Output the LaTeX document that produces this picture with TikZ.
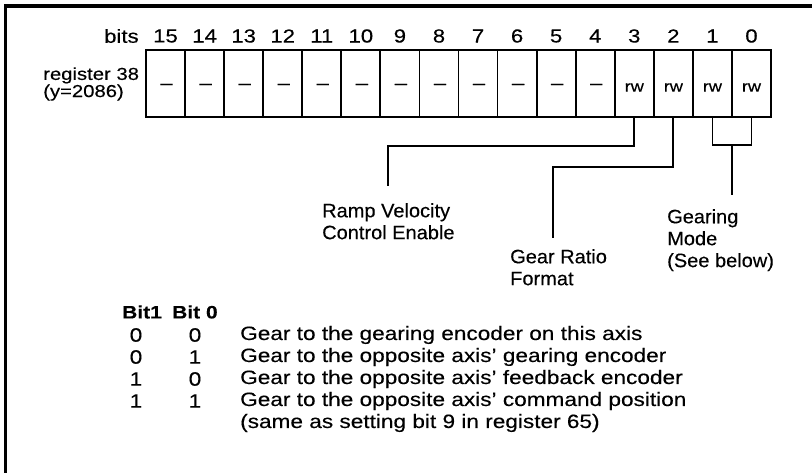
\documentclass[tikz,border=0pt]{standalone}
\usepackage{fontspec}
\setmainfont{Liberation Sans}[FakeBold=0.3, FakeStretch=1.17]
\newfontfamily\lblfont{Liberation Sans}[FakeBold=0.3, FakeStretch=1.03]
\begin{document}
\begin{tikzpicture}[x=1bp,y=-1bp,
  every node/.style={font=\fontsize{19}{22}\selectfont, inner sep=0pt},
  cell/.style={draw, line width=1.8bp, minimum width=39.06bp, minimum height=67bp},
  celltxt/.style={font=\fontsize{19}{22}\selectfont},
  rwtxt/.style={font=\fontsize{15.5}{18}\selectfont},
  conn/.style={line width=1.8bp},
  lbl/.style={align=left, anchor=north west, font=\lblfont\fontsize{19.5}{22}\selectfont},
  tbl/.style={font=\fontsize{19.4}{22}\selectfont},
  hdr/.style={font=\fontsize{18}{20}\selectfont\bfseries},
  frame/.style={line width=3.5bp}]
\useasboundingbox (0,0) rectangle (812,473);
% frame
\draw[frame] (5.5,473) -- (5.5,6) -- (812,6);
% labels left
\node[anchor=west] (bitslbl) at (104,36) {bits};
\node[align=left, anchor=west, font=\fontsize{17.4}{13.5}\selectfont] (reglbl) at (43,84) {register 38\\(y=2086)};
% cells
\foreach \b in {15,...,0} {
  \pgfmathsetmacro{\cx}{146+(15-\b+0.5)*39.0625}
  \node[cell] (c\b) at (\cx,83.5) {};
  \node (n\b) at (\cx,36) {\b};
}
\foreach \b in {15,...,4} {
  \node[celltxt] (t\b) at ([xshift=1bp,yshift=-3bp]c\b.center) {--};
}
\foreach \b in {3,...,0} {
  \node[rwtxt] (t\b) at ([yshift=-4bp]c\b.center) {rw};
}
% connectors
\coordinate (j3) at (388,146);
\coordinate (e3) at (388,186);
\draw[conn] (c3.south) -- (c3.south |- j3) -| (e3);
\coordinate (j2) at (553,167);
\coordinate (e2) at (553,238);
\draw[conn] (c2.south) -- (c2.south |- j2) -| (e2);
\coordinate (j10) at (732,145);
\coordinate (e10) at (732,195);
\draw[conn] (c1.south) -- (c1.south |- j10) -- (c0.south |- j10) -- (c0.south);
\draw[conn] (j10) -- (e10);
% function labels
\node[lbl] (ramp) at (322,203) {Ramp Velocity\\Control Enable};
\node[lbl] (ratio) at (510,249) {Gear Ratio\\Format};
\node[lbl] (mode) at (667,209) {Gearing\\Mode\\(See below)};
% table
\node[hdr, anchor=west] (h1) at (122,312) {Bit1};
\node[hdr, anchor=west] (h0) at (172,312) {Bit 0};
\node[tbl] (r1a) at (136,335) {0}; \node[tbl] (r1b) at (195,335) {0};
\node[tbl, anchor=west] (r1c) at (240,335) {Gear to the gearing encoder on this axis};
\node[tbl] (r2a) at (136,357) {0}; \node[tbl] (r2b) at (195,357) {1};
\node[tbl, anchor=west] (r2c) at (240,357) {Gear to the opposite axis’ gearing encoder};
\node[tbl] (r3a) at (136,379) {1}; \node[tbl] (r3b) at (195,379) {0};
\node[tbl, anchor=west] (r3c) at (240,379) {Gear to the opposite axis’ feedback encoder};
\node[tbl] (r4a) at (136,401) {1}; \node[tbl] (r4b) at (195,401) {1};
\node[tbl, anchor=west] (r4c) at (240,401) {Gear to the opposite axis’ command position};
\node[tbl, anchor=west] (r5c) at (240,423) {(same as setting bit 9 in register 65)};
\end{tikzpicture}
\end{document}
